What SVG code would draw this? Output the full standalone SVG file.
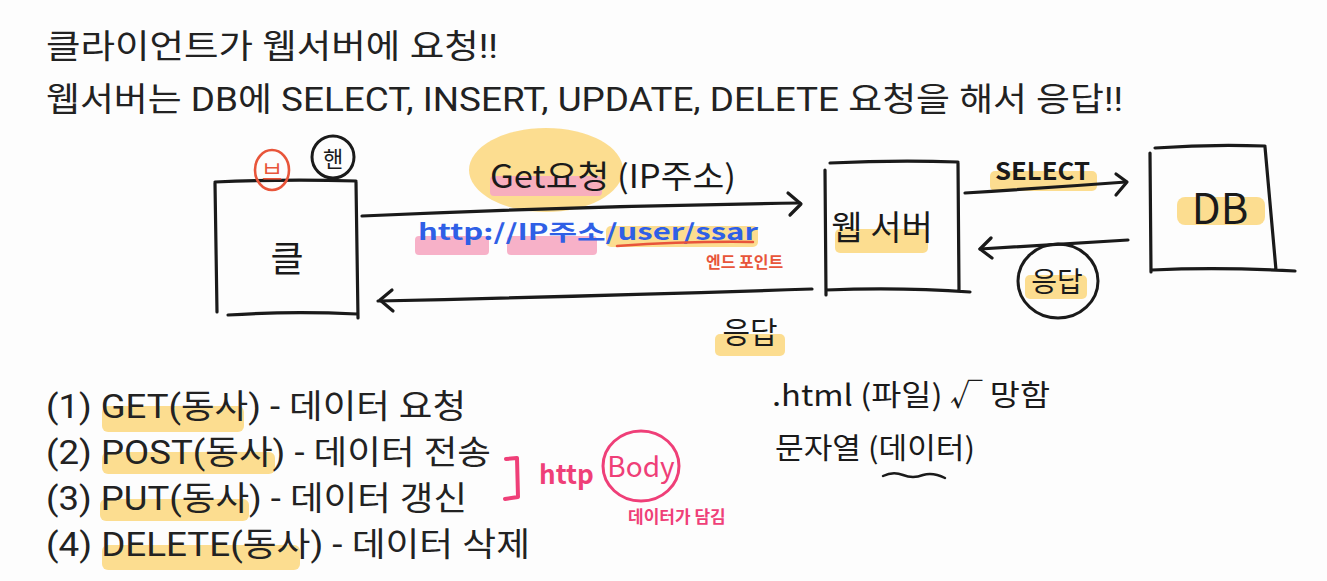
<svg xmlns="http://www.w3.org/2000/svg" width="1327" height="581" viewBox="0 0 1327 581">
<style>
.t{font-family:"Roboto","Noto Sans CJK KR",sans-serif;font-size:33px;fill:#222}
.h{font-family:"Noto Sans CJK KR","Noto Sans",sans-serif;fill:#1a1a1a}
.ln{fill:none;stroke:#1a1a1a;stroke-width:3.2;stroke-linecap:round;stroke-linejoin:round}
.yl{fill:#fcd77d;opacity:.85}
.pk{fill:#f6a9c2;opacity:.9}
.blue{font-family:"Noto Sans CJK KR",sans-serif;fill:#2f5fe6;font-weight:bold}
.red{fill:#e8553a}
.mg{fill:#ef3f78}
</style>
<rect width="1327" height="581" fill="#fdfdfd"/>
<g id="header">
<text class="t" x="46" y="58" textLength="452" lengthAdjust="spacingAndGlyphs">클라이언트가 웹서버에 요청!!</text>
<text class="t" x="46" y="111" textLength="1077" lengthAdjust="spacingAndGlyphs">웹서버는 DB에 SELECT, INSERT, UPDATE, DELETE 요청을 해서 응답!!</text>
</g>
<g id="highlights">
<ellipse cx="546" cy="170" rx="77" ry="42" class="yl"/>
<rect x="490" y="176" width="112" height="20" rx="4" class="pk"/>
<rect x="415" y="236" width="74" height="19" rx="4" class="pk"/>
<rect x="507" y="236" width="90" height="19" rx="4" class="pk"/>
<rect x="606" y="226" width="152" height="21" rx="5" class="yl"/>
<rect x="715" y="334" width="70" height="22" rx="5" class="yl"/>
<rect x="835" y="229" width="93" height="24" rx="5" class="yl"/>
<rect x="990" y="171" width="107" height="20" rx="5" class="yl"/>
<rect x="1025" y="275" width="62" height="24" rx="5" class="yl"/>
<rect x="1177" y="197" width="88" height="28" rx="8" class="yl"/>
<rect x="102" y="406" width="142" height="26" rx="6" class="yl"/>
<rect x="102" y="452" width="173" height="22" rx="6" class="yl"/>
<rect x="100" y="499" width="149" height="22" rx="6" class="yl"/>
<rect x="102" y="545" width="198" height="25" rx="6" class="yl"/>
</g>
<g id="client">
<path class="ln" d="M215 183 L217 312 M215 182 Q285 179 356 181 M356 182 L358 318 M228 315 Q290 311 357 314"/>
<text class="h" x="287" y="272" font-size="36" text-anchor="middle">클</text>
</g>
<g id="browser-badge">
<ellipse cx="272" cy="170" rx="17" ry="20" fill="none" stroke="#e8553a" stroke-width="2.6"/>
<text class="h red" x="272" y="180" font-size="22" text-anchor="middle">브</text>
</g>
<g id="phone-badge">
<circle cx="333" cy="157" r="21" fill="none" stroke="#1a1a1a" stroke-width="3"/>
<text class="h" x="333" y="167" font-size="22" text-anchor="middle">핸</text>
</g>
<g id="webserver">
<path class="ln" d="M825 170 L826 295 M830 163 Q895 160 958 162 M958 163 L959 290 M826 290 Q900 287 970 292"/>
<text class="h" x="882" y="240" font-size="34" text-anchor="middle">웹 서버</text>
</g>
<g id="db">
<path class="ln" d="M1150 153 L1151 272 M1155 148 Q1210 144 1265 146 M1265 147 L1276 270 M1152 270 Q1220 267 1295 271"/>
<text class="h" x="1220" y="224" font-size="42" text-anchor="middle">DB</text>
</g>
<g id="response-circle">
<ellipse cx="1058" cy="281" rx="40" ry="37" fill="none" stroke="#1a1a1a" stroke-width="3"/>
<text class="h" x="1057" y="292" font-size="28" text-anchor="middle">응답</text>
</g>
<g id="connectors">
<path class="ln" d="M362 216 Q580 206 800 203"/>
<path class="ln" d="M788 193 L801 204 L790 215"/>
<path class="ln" d="M812 289 Q600 296 378 301"/>
<path class="ln" d="M392 290 L380 300 L393 311"/>
<path class="ln" d="M965 193 Q1045 188 1126 182"/>
<path class="ln" d="M1116 174 L1127 182 L1116 195"/>
<path class="ln" d="M1128 240 Q1050 245 980 249"/>
<path class="ln" d="M991 238 L980 249 L992 258"/>
</g>
<g id="labels">
<text class="h" x="490" y="188" font-size="32" textLength="246" lengthAdjust="spacingAndGlyphs">Get요청 (IP주소)</text>
<text class="blue" x="418" y="240" font-size="22" textLength="340" lengthAdjust="spacingAndGlyphs">http://IP주소/user/ssar</text>
<path d="M617 246 Q690 241 753 242" fill="none" stroke="#e8553a" stroke-width="2.5" stroke-linecap="round"/>
<text class="h red" x="706" y="268" font-size="16" font-weight="bold">엔드 포인트</text>
<text class="h" x="750" y="343" font-size="30" text-anchor="middle">응답</text>
<text class="h" x="995" y="180" font-size="24" font-weight="bold" textLength="95" lengthAdjust="spacingAndGlyphs">SELECT</text>
</g>
<g id="list">
<text class="t" x="46" y="418" textLength="420" lengthAdjust="spacingAndGlyphs">(1) GET(동사) - 데이터 요청</text>
<text class="t" x="46" y="464" textLength="445" lengthAdjust="spacingAndGlyphs">(2) POST(동사) - 데이터 전송</text>
<text class="t" x="46" y="510" textLength="421" lengthAdjust="spacingAndGlyphs">(3) PUT(동사) - 데이터 갱신</text>
<text class="t" x="46" y="556" textLength="484" lengthAdjust="spacingAndGlyphs">(4) DELETE(동사) - 데이터 삭제</text>
</g>
<g id="body-note">
<path d="M506 459 L517 458 L518 497 L505 499" fill="none" stroke="#ef3f78" stroke-width="4" stroke-linecap="round" stroke-linejoin="round"/>
<text class="h mg" x="539" y="484" font-size="26" font-weight="bold">http</text>
<ellipse cx="641" cy="466" rx="38" ry="35" fill="none" stroke="#ef3f78" stroke-width="3"/>
<text class="h mg" x="641" y="477" font-size="28" text-anchor="middle">Body</text>
<text class="h mg" x="628" y="523" font-size="17" font-weight="bold">데이터가 담김</text>
</g>
<g id="notes">
<text class="h" x="772" y="406" font-size="29" textLength="278" lengthAdjust="spacingAndGlyphs">.html (파일) √ 망함</text>
<text class="h" x="775" y="459" font-size="29" textLength="200" lengthAdjust="spacingAndGlyphs">문자열 (데이터)</text>
<path d="M883 476 Q893 471 903 475 Q913 479 923 475 Q933 472 945 478" fill="none" stroke="#1a1a1a" stroke-width="2.5" stroke-linecap="round"/>
</g>
</svg>
